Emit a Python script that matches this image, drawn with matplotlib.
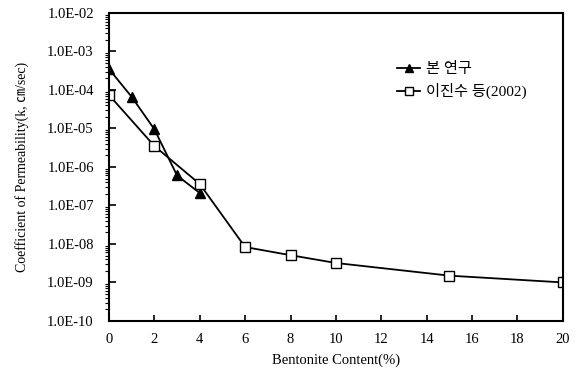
import matplotlib.pyplot as plt
from matplotlib.ticker import LogLocator, FuncFormatter, NullFormatter

plt.rcParams['font.family'] = ['Liberation Serif', 'Noto Sans CJK KR']

x_this = [0, 1, 2, 3, 4]
k_this = [3.5e-4, 6.6e-5, 9.5e-6, 6.0e-7, 2.1e-7]
x_lee = [0, 2, 4, 6, 8, 10, 15, 20]
k_lee = [7.4e-5, 3.5e-6, 3.6e-7, 8.3e-9, 5.1e-9, 3.2e-9, 1.5e-9, 1.0e-9]
label_this = '본 연구'
label_lee = '이진수 등(2002)'

fig = plt.figure(figsize=(5.78, 3.71), dpi=100)
ax = fig.add_axes([0.1886, 0.135, 0.785, 0.83])

ax.plot(x_this, k_this, color='black', lw=1.3, marker='^', ms=7,
        mfc='black', mec='black', label=label_this)
ax.plot(x_lee, k_lee, color='black', lw=1.3, marker='s', ms=6.5,
        mfc='white', mec='black', label=label_lee)

ax.set_yscale('log')
ax.set_ylim(1e-10, 1e-2)
ax.set_xlim(0, 20)
ax.set_xticks(range(0, 21, 2))
ax.yaxis.set_major_locator(LogLocator(base=10, numticks=20))
ax.yaxis.set_minor_locator(LogLocator(base=10, subs=range(2, 10), numticks=20))
ax.yaxis.set_minor_formatter(NullFormatter())
ax.yaxis.set_major_formatter(FuncFormatter(lambda v, p: '%.1E' % v))

ax.tick_params(axis='both', direction='in', labelsize=10.5, width=1.2)
ax.tick_params(axis='y', which='major', length=5, pad=11)
ax.tick_params(axis='y', which='minor', length=3, width=0.8)
ax.tick_params(axis='x', length=4, pad=9)
for s in ax.spines.values():
    s.set_linewidth(1.5)

ax.set_xlabel('Bentonite Content(%)', fontsize=10.5, labelpad=5)
ax.set_ylabel('Coefficient of Permeability(k, ㎝/sec)', fontsize=10, labelpad=13)

ax.legend(loc='upper left', bbox_to_anchor=(0.605, 0.885), frameon=False,
          fontsize=11, handlelength=1.5, handletextpad=0.4, labelspacing=0.45,
          markerscale=0.85)

fig.savefig('out.png', dpi=100)
